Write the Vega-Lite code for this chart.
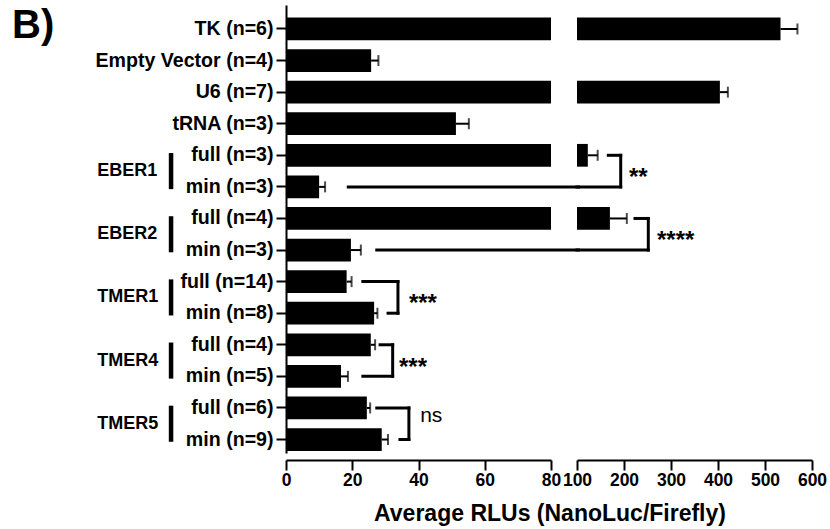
{
  "$schema": "https://vega.github.io/schema/vega-lite/v6.json",
  "padding": {"left": 12, "top": 5, "right": 4, "bottom": 5},
  "bounds": "flush",
  "spacing": 26,
  "resolve": {"scale": {"x": "independent", "y": "independent"}},
  "config": {
    "font": "Liberation Sans",
    "view": {"stroke": null},
    "axis": {
      "domainColor": "black", "domainWidth": 2, "tickColor": "black", "tickWidth": 2, "tickSize": 10,
      "labelColor": "black", "labelFontWeight": "bold", "grid": false, "labelOverlap": false, "labelBound": false
    },
    "axisX": {"labelFontSize": 17.5, "labelPadding": 1, "offset": 7, "labelFlush": false},
    "axisY": {"labelFontSize": 19.6, "labelPadding": 3}
  },
  "datasets": {
    "bars": [
      {"row": "TK (n=6)", "value": 533, "upper": 569},
      {"row": "Empty Vector (n=4)", "value": 25.7, "upper": 27.9},
      {"row": "U6 (n=7)", "value": 404, "upper": 421},
      {"row": "tRNA (n=3)", "value": 51.3, "upper": 55.2},
      {"row": "EBER1:full (n=3)", "value": 123, "upper": 144},
      {"row": "EBER1:min (n=3)", "value": 10, "upper": 11.8},
      {"row": "EBER2:full (n=4)", "value": 170, "upper": 206},
      {"row": "EBER2:min (n=3)", "value": 19.6, "upper": 22.6},
      {"row": "TMER1:full (n=14)", "value": 18.3, "upper": 19.8},
      {"row": "TMER1:min (n=8)", "value": 26.6, "upper": 27.6},
      {"row": "TMER4:full (n=4)", "value": 25.6, "upper": 26.9},
      {"row": "TMER4:min (n=5)", "value": 16.6, "upper": 18.7},
      {"row": "TMER5:full (n=6)", "value": 24.4, "upper": 25.4},
      {"row": "TMER5:min (n=9)", "value": 28.9, "upper": 30.8}
    ],
    "groups": [
      {"name": "EBER1", "top": "EBER1:full (n=3)", "bottom": "EBER1:min (n=3)"},
      {"name": "EBER2", "top": "EBER2:full (n=4)", "bottom": "EBER2:min (n=3)"},
      {"name": "TMER1", "top": "TMER1:full (n=14)", "bottom": "TMER1:min (n=8)"},
      {"name": "TMER4", "top": "TMER4:full (n=4)", "bottom": "TMER4:min (n=5)"},
      {"name": "TMER5", "top": "TMER5:full (n=6)", "bottom": "TMER5:min (n=9)"}
    ],
    "leftSegs": [
      {"row": "EBER1:min (n=3)", "row2": "EBER1:min (n=3)", "x": 18.8, "x2": 88.3},
      {"row": "EBER2:min (n=3)", "row2": "EBER2:min (n=3)", "x": 27.4, "x2": 88.3},
      {"row": "TMER1:full (n=14)", "row2": "TMER1:full (n=14)", "x": 23.2, "x2": 33.8},
      {"row": "TMER1:full (n=14)", "row2": "TMER1:min (n=8)", "x": 33.8, "x2": 33.8},
      {"row": "TMER1:min (n=8)", "row2": "TMER1:min (n=8)", "x": 30.8, "x2": 33.8},
      {"row": "TMER4:full (n=4)", "row2": "TMER4:full (n=4)", "x": 28.4, "x2": 32.2},
      {"row": "TMER4:full (n=4)", "row2": "TMER4:min (n=5)", "x": 32.2, "x2": 32.2},
      {"row": "TMER4:min (n=5)", "row2": "TMER4:min (n=5)", "x": 23.2, "x2": 32.2},
      {"row": "TMER5:full (n=6)", "row2": "TMER5:full (n=6)", "x": 27.4, "x2": 37.1},
      {"row": "TMER5:full (n=6)", "row2": "TMER5:min (n=9)", "x": 37.1, "x2": 37.1},
      {"row": "TMER5:min (n=9)", "row2": "TMER5:min (n=9)", "x": 34.4, "x2": 37.1}
    ],
    "rightSegs": [
      {"row": "EBER1:full (n=3)", "row2": "EBER1:full (n=3)", "x": 166.6, "x2": 193},
      {"row": "EBER1:full (n=3)", "row2": "EBER1:min (n=3)", "x": 193, "x2": 193},
      {"row": "EBER1:min (n=3)", "row2": "EBER1:min (n=3)", "x": 100, "x2": 193},
      {"row": "EBER2:full (n=4)", "row2": "EBER2:full (n=4)", "x": 223.4, "x2": 251.7},
      {"row": "EBER2:full (n=4)", "row2": "EBER2:min (n=3)", "x": 251.7, "x2": 251.7},
      {"row": "EBER2:min (n=3)", "row2": "EBER2:min (n=3)", "x": 100, "x2": 251.7}
    ],
    "leftStars": [
      {"t": "***", "row": "TMER1:full (n=14)", "x": 37.1},
      {"t": "***", "row": "TMER4:full (n=4)", "x": 34.1}
    ],
    "leftNs": [
      {"t": "ns", "row": "TMER5:full (n=6)", "x": 40.5}
    ],
    "rightStars": [
      {"t": "**", "row": "EBER1:full (n=3)", "x": 210.6},
      {"t": "****", "row": "EBER2:full (n=4)", "x": 270.2}
    ],
    "panel": [
      {"t": "B)", "row": "TK (n=6)"}
    ]
  },
  "hconcat": [
    {
      "width": 265,
      "height": 448,
      "layer": [
        {
          "data": {"name": "bars"},
          "mark": {"type": "bar", "color": "black", "clip": true},
          "encoding": {
            "y": {
              "field": "row", "type": "nominal", "sort": null,
              "scale": {
                "domain": ["TK (n=6)", "Empty Vector (n=4)", "U6 (n=7)", "tRNA (n=3)", "EBER1:full (n=3)", "EBER1:min (n=3)", "EBER2:full (n=4)", "EBER2:min (n=3)", "TMER1:full (n=14)", "TMER1:min (n=8)", "TMER4:full (n=4)", "TMER4:min (n=5)", "TMER5:full (n=6)", "TMER5:min (n=9)"],
                "paddingInner": 0.28, "paddingOuter": 0.233, "align": 0.857
              },
              "axis": {"title": null, "labelExpr": "slice(datum.label, indexof(datum.label, ':') + 1)"}
            },
            "x": {
              "field": "value", "type": "quantitative",
              "scale": {"domain": [0, 80], "nice": false, "zero": true},
              "axis": {
                "values": [0, 20, 40, 60, 80],
                "title": "Average RLUs (NanoLuc/Firefly)",
                "titleFontSize": 23, "titleFontWeight": "bold", "titleColor": "black",
                "titleX": 263.5, "titleY": 60, "titleAlign": "center", "titleBaseline": "alphabetic"
              }
            }
          }
        },
        {
          "data": {"name": "bars"},
          "mark": {"type": "rule", "color": "black", "strokeWidth": 2, "clip": true},
          "encoding": {
            "y": {"field": "row", "type": "nominal", "sort": null, "axis": {"title": null}},
            "x": {"field": "value", "type": "quantitative"},
            "x2": {"field": "upper"}
          }
        },
        {
          "data": {"name": "bars"},
          "mark": {"type": "tick", "color": "black", "thickness": 2, "size": 11, "clip": true},
          "encoding": {
            "y": {"field": "row", "type": "nominal", "sort": null, "axis": {"title": null}},
            "x": {"field": "upper", "type": "quantitative"}
          }
        },
        {
          "data": {"name": "groups"},
          "mark": {"type": "rule", "color": "black", "strokeWidth": 4.5, "strokeCap": "square"},
          "encoding": {
            "y": {"field": "top", "type": "nominal", "sort": null, "axis": {"title": null}},
            "y2": {"field": "bottom"},
            "x": {"datum": -34.7, "type": "quantitative"}
          }
        },
        {
          "data": {"name": "groups"},
          "mark": {"type": "text", "color": "black", "fontSize": 18, "fontWeight": "bold", "align": "left", "baseline": "middle", "dy": 15.8},
          "encoding": {
            "y": {"field": "top", "type": "nominal", "sort": null, "axis": {"title": null}},
            "x": {"datum": -57, "type": "quantitative"},
            "text": {"field": "name"}
          }
        },
        {
          "data": {"name": "panel"},
          "mark": {"type": "text", "color": "black", "fontSize": 40, "fontWeight": "bold", "align": "left", "baseline": "alphabetic", "dy": 9},
          "encoding": {
            "y": {"field": "row", "type": "nominal", "sort": null, "axis": {"title": null}},
            "x": {"datum": -82.7, "type": "quantitative"},
            "text": {"field": "t"}
          }
        },
        {
          "data": {"name": "leftSegs"},
          "mark": {"type": "rule", "color": "black", "strokeWidth": 3, "strokeCap": "square"},
          "encoding": {
            "y": {"field": "row", "type": "nominal", "sort": null, "axis": {"title": null}},
            "y2": {"field": "row2"},
            "x": {"field": "x", "type": "quantitative"},
            "x2": {"field": "x2"}
          }
        },
        {
          "data": {"name": "leftStars"},
          "mark": {"type": "text", "color": "black", "fontSize": 24, "fontWeight": "bold", "align": "left", "baseline": "alphabetic", "dy": 29.8},
          "encoding": {
            "y": {"field": "row", "type": "nominal", "sort": null, "axis": {"title": null}},
            "x": {"field": "x", "type": "quantitative"},
            "text": {"field": "t"}
          }
        },
        {
          "data": {"name": "leftNs"},
          "mark": {"type": "text", "color": "black", "fontSize": 21, "fontWeight": "normal", "align": "left", "baseline": "alphabetic", "dy": 13.6},
          "encoding": {
            "y": {"field": "row", "type": "nominal", "sort": null, "axis": {"title": null}},
            "x": {"field": "x", "type": "quantitative"},
            "text": {"field": "t"}
          }
        }
      ]
    },
    {
      "width": 235,
      "height": 448,
      "layer": [
        {
          "data": {"name": "bars"},
          "transform": [{"filter": "datum.value > 80"}],
          "mark": {"type": "bar", "color": "black"},
          "encoding": {
            "y": {
              "field": "row", "type": "nominal", "sort": null,
              "scale": {
                "domain": ["TK (n=6)", "Empty Vector (n=4)", "U6 (n=7)", "tRNA (n=3)", "EBER1:full (n=3)", "EBER1:min (n=3)", "EBER2:full (n=4)", "EBER2:min (n=3)", "TMER1:full (n=14)", "TMER1:min (n=8)", "TMER4:full (n=4)", "TMER4:min (n=5)", "TMER5:full (n=6)", "TMER5:min (n=9)"],
                "paddingInner": 0.28, "paddingOuter": 0.233, "align": 0.857
              },
              "axis": null
            },
            "x": {
              "field": "value", "type": "quantitative",
              "scale": {"domain": [100, 600], "nice": false, "zero": false},
              "axis": {"values": [100, 200, 300, 400, 500, 600], "title": null}
            },
            "x2": {"datum": 100}
          }
        },
        {
          "data": {"name": "bars"},
          "transform": [{"filter": "datum.value > 80"}],
          "mark": {"type": "rule", "color": "black", "strokeWidth": 2},
          "encoding": {
            "y": {"field": "row", "type": "nominal", "sort": null},
            "x": {"field": "value", "type": "quantitative"},
            "x2": {"field": "upper"}
          }
        },
        {
          "data": {"name": "bars"},
          "transform": [{"filter": "datum.value > 80"}],
          "mark": {"type": "tick", "color": "black", "thickness": 2, "size": 11},
          "encoding": {
            "y": {"field": "row", "type": "nominal", "sort": null},
            "x": {"field": "upper", "type": "quantitative"}
          }
        },
        {
          "data": {"name": "rightSegs"},
          "mark": {"type": "rule", "color": "black", "strokeWidth": 3, "strokeCap": "square"},
          "encoding": {
            "y": {"field": "row", "type": "nominal", "sort": null},
            "y2": {"field": "row2"},
            "x": {"field": "x", "type": "quantitative"},
            "x2": {"field": "x2"}
          }
        },
        {
          "data": {"name": "rightStars"},
          "mark": {"type": "text", "color": "black", "fontSize": 24, "fontWeight": "bold", "align": "left", "baseline": "alphabetic", "dy": 29.8},
          "encoding": {
            "y": {"field": "row", "type": "nominal", "sort": null},
            "x": {"field": "x", "type": "quantitative"},
            "text": {"field": "t"}
          }
        }
      ]
    }
  ]
}
